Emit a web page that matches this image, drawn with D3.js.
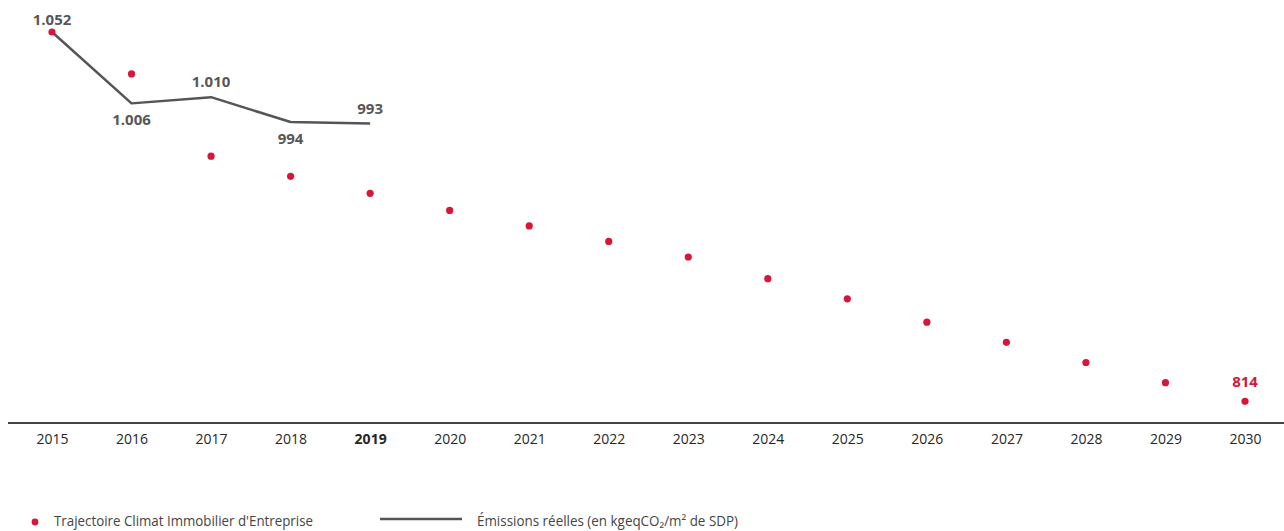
<!DOCTYPE html>
<html lang="fr">
<head>
<meta charset="utf-8">
<script src="https://cdn.jsdelivr.net/npm/d3@7"></script>
<style>
  html, body { margin: 0; padding: 0; background: #fff; }
  svg { display: block; }
  .tick-label { font-family: "Open Sans", sans-serif; font-size: 14px; fill: #262626; }
  .val-label { font-family: "Open Sans", sans-serif; font-size: 15px; font-weight: 700; fill: #575757; }
  .legend-text { font-family: "Open Sans", sans-serif; font-size: 14px; fill: #444; }
</style>
</head>
<body>
<svg id="chart" width="1284" height="531"></svg>
<script>
// Years on the horizontal axis
const years = [2015, 2016, 2017, 2018, 2019, 2020, 2021, 2022, 2023, 2024, 2025, 2026, 2027, 2028, 2029, 2030];
// Target trajectory (kgeqCO2/m² de SDP)
const trajectory = [1052, 1025, 972, 959, 948, 937, 927, 917, 907, 893, 880, 865, 852, 839, 826, 814];
// Actual emissions, 2015–2019
const actualYears = [2015, 2016, 2017, 2018, 2019];
const actual = [1052, 1006, 1010, 994, 993];
// Where each actual-value label sits relative to the line
const actualLabelPos = ["above", "below", "above", "below", "above"];
const boldYear = 2019;

const legendTrajectory = "Trajectoire Climat Immobilier d'Entreprise";
const legendActual = "Émissions réelles (en kgeqCO₂/m² de SDP)";

const fr = d3.formatLocale({ decimal: ",", thousands: ".", grouping: [3], currency: ["", " €"] });
const fmt = fr.format(",d");

const red = "#d4173a";
const grey = "#555";

const svg = d3.select("#chart");

const x = d3.scalePoint().domain(years).range([52, 1245]);
const y = d3.scaleLinear().domain([800, 1052]).range([423, 32]);

// Baseline axis
const axis = d3.axisBottom(x).tickSize(0).tickPadding(11).tickFormat(d => d);
const gAxis = svg.append("g").attr("transform", `translate(0,${y(800)})`).call(axis);
gAxis.select(".domain").remove();
gAxis.append("line")
  .attr("x1", 8).attr("x2", 1284)
  .attr("stroke", "#444").attr("stroke-width", 2);
gAxis.selectAll(".tick text")
  .attr("class", "tick-label")
  .attr("font-family", null).attr("font-size", null).attr("fill", null)
  .style("font-weight", d => d === boldYear ? 700 : 400);

// Actual emissions line
const line = d3.line().x((d, i) => x(actualYears[i])).y(d => y(d));
svg.append("path")
  .datum(actual)
  .attr("d", line)
  .attr("fill", "none")
  .attr("stroke", grey)
  .attr("stroke-width", 2.5)
  .attr("stroke-linejoin", "round");

// Trajectory dots
svg.append("g").selectAll("circle")
  .data(trajectory)
  .join("circle")
  .attr("cx", (d, i) => x(years[i]))
  .attr("cy", d => y(d))
  .attr("r", 3.6)
  .attr("fill", red);

// Actual value labels
svg.append("g").selectAll("text")
  .data(actual)
  .join("text")
  .attr("class", "val-label")
  .attr("text-anchor", "middle")
  .attr("x", (d, i) => x(actualYears[i]))
  .attr("y", (d, i) => actualLabelPos[i] === "above" ? y(d) - (i === 0 ? 7 : 10) : y(d) + 22)
  .text(d => fmt(d));

// Final trajectory value
const last = trajectory[trajectory.length - 1];
svg.append("text")
  .attr("class", "val-label")
  .attr("text-anchor", "middle")
  .attr("x", x(years[years.length - 1]))
  .attr("y", y(last) - 14)
  .style("fill", red)
  .text(fmt(last));

// Legend
const lg = svg.append("g");
lg.append("circle").attr("cx", 35).attr("cy", 522).attr("r", 3.4).attr("fill", red);
lg.append("text").attr("class", "legend-text").attr("x", 54).attr("y", 526)
  .attr("textLength", 259).attr("lengthAdjust", "spacingAndGlyphs")
  .text(legendTrajectory);
lg.append("line").attr("x1", 380).attr("x2", 462).attr("y1", 519).attr("y2", 519)
  .attr("stroke", grey).attr("stroke-width", 2.5);
lg.append("text").attr("class", "legend-text").attr("x", 477).attr("y", 526)
  .attr("textLength", 261).attr("lengthAdjust", "spacingAndGlyphs")
  .text(legendActual);
</script>
</body>
</html>
